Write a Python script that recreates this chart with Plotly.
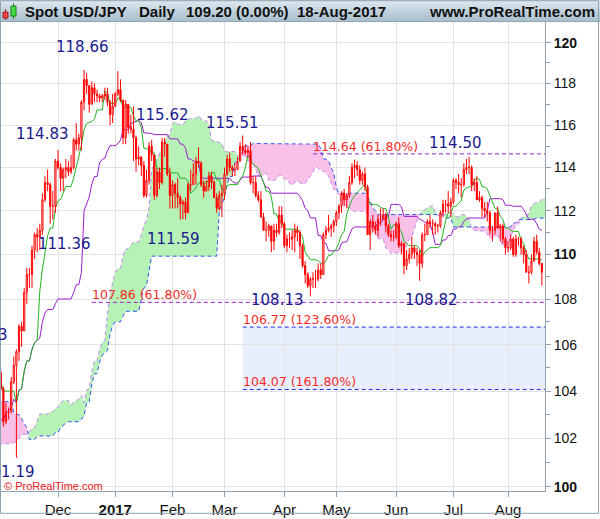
import numpy as np
import pandas as pd
import plotly.graph_objects as go

# daily USD/JPY bars; the first months only feed the Ichimoku lines
FIRST_DAY = "2016-07-11"
LAST_DAY = "2017-08-18"
VIEW_FROM = "2016-11-01"

OPEN = [
    100.6, 102.7, 104.2, 104.6, 105.7, 104.9, 106.1, 106.2, 106.9, 105.8, 106.1, 106.2, 104.7, 105.4, 105.2,
    102.1, 102.4, 100.9, 101.3, 101.2, 101.8, 102.5, 101.9, 101.3, 101.9, 101.3, 101.2, 100.3, 100.2, 99.9, 100.2, 100.7, 100.2, 100.5, 100.5, 101.8, 102.0, 102.9,
    103.4, 103.3, 104.0, 103.3, 101.7, 101.7, 102.0, 102.7, 102.6, 102.6, 102.3, 102.0, 102.3, 101.8, 101.7, 100.7, 100.7, 101.0, 100.4, 100.5, 100.7, 101.1,
    101.3, 101.9, 102.9, 103.5, 103.9, 102.9, 103.6, 103.8, 104.2, 103.6, 104.2, 103.8, 103.8, 103.4, 103.9, 103.8, 104.2, 104.3, 104.3, 105.2, 104.7,
    104.8, 104.1, 102.7, 103.1, 103.1, 104.4, 105.1, 105.7, 106.8, 106.6, 108.3, 109.1, 109.1, 110.2, 110.9, 110.8, 111.1, 112.5, 113.3, 113.2, 112.2, 112.2,
    114.3, 114.0, 113.5, 113.9, 114.0, 113.8, 114.0, 115.3, 115.1, 115.4, 117.1, 118.2, 117.9, 117.0, 117.8, 117.5, 117.4, 117.3, 117.4, 117.5, 117.1, 116.5,
    116.9, 117.5, 117.7, 117.2, 115.4, 117.0, 115.9, 115.8, 115.4, 114.4, 114.5, 114.1, 112.7, 113.4, 115.0, 114.6, 112.7, 113.8, 113.3, 115.2, 115.1, 113.7,
    112.7, 113.2, 112.8, 112.6, 112.3, 112.4, 111.9, 113.2, 113.2, 113.7, 114.3, 114.2, 113.2, 112.9, 113.1, 113.6, 113.3, 112.6, 112.1, 112.7,
    112.8, 113.7, 114.4, 114.0, 113.9, 113.9, 114.3, 115.0, 114.8, 114.7, 114.8, 113.3, 113.3, 112.7, 112.5, 111.7, 111.1, 111.1, 111.3, 110.6, 111.1, 111.0, 111.8,
    111.4, 110.4, 110.7, 110.7, 110.8, 111.1, 111.0, 110.4, 109.5, 109.1, 108.6, 108.9, 108.9, 108.9, 109.3, 109.1, 110.9, 111.1, 111.2, 111.3,
    111.5, 111.9, 112.2, 112.8, 112.5, 112.7, 113.3, 114.0, 114.1, 113.9, 113.4, 113.7, 113.1, 110.9, 111.5, 111.3, 111.1, 111.6, 111.6, 111.8, 111.3, 110.9, 110.8,
    110.8, 111.4, 110.4, 110.5, 109.5, 109.8, 110.0, 110.3, 110.1, 110.0, 109.6, 110.9, 110.9, 111.5, 111.4, 111.4, 111.3, 111.3, 111.9, 112.3, 112.3, 112.2,
    112.4, 113.4, 113.3, 113.2, 113.2, 113.9, 114.0, 114.0, 113.2, 113.3, 112.5, 112.6, 112.1, 112.0, 111.9, 111.1, 111.1, 111.9, 111.2, 111.3, 110.7,
    110.3, 110.3, 110.7, 110.0, 110.7, 110.7, 110.3, 110.0, 109.2, 109.2, 109.7, 110.6, 110.1, 109.6,
]
HIGH = [
    103.0, 104.3, 105.0, 106.0, 106.3, 106.3, 106.4, 107.0, 107.5, 106.6, 106.4, 106.4, 106.0, 105.6, 105.3,
    102.8, 102.6, 101.4, 101.6, 102.1, 102.7, 102.7, 102.0, 102.0, 102.0, 101.6, 101.3, 100.9, 100.4, 100.4, 100.9, 100.8, 100.8, 100.7, 101.9, 102.5, 103.0, 103.5,
    104.0, 104.3, 104.1, 103.5, 102.0, 102.2, 103.0, 102.8, 102.8, 102.8, 102.5, 102.3, 102.4, 101.9, 102.8, 101.1, 101.2, 101.3, 100.9, 101.0, 101.4, 101.6,
    102.1, 103.0, 103.5, 104.1, 104.2, 103.9, 104.0, 104.3, 104.3, 104.6, 104.2, 104.0, 103.9, 104.1, 104.1, 104.3, 104.9, 104.6, 105.3, 105.5, 105.1,
    104.9, 104.2, 103.5, 103.3, 104.6, 105.5, 105.8, 106.9, 107.0, 108.5, 109.4, 109.4, 110.4, 111.0, 111.2, 111.4, 112.8, 113.6, 113.9, 113.3, 112.9, 114.4,
    114.83, 114.2, 114.0, 114.4, 114.3, 114.6, 115.4, 116.1, 115.6, 117.2, 118.66, 118.5, 117.9, 118.1, 118.0, 117.7, 117.5, 117.5, 117.8, 117.8, 117.2, 117.5,
    117.6, 118.6, 118.2, 117.2, 117.2, 117.0, 116.5, 116.9, 115.5, 115.0, 114.5, 114.3, 113.9, 115.2, 115.3, 114.6, 114.0, 114.0, 115.4, 115.4, 115.1, 114.0,
    113.4, 113.3, 113.5, 112.7, 112.5, 112.6, 113.3, 113.9, 114.2, 114.5, 114.95, 114.3, 113.4, 113.4, 113.8, 113.8, 113.4, 112.8, 112.9, 113.2,
    114.0, 114.6, 114.7, 114.1, 114.2, 114.5, 115.2, 115.51, 115.1, 115.0, 115.2, 113.6, 113.6, 112.9, 112.9, 111.9, 111.5, 111.4, 111.3, 111.4, 111.4, 112.2, 112.2,
    111.5, 110.9, 111.0, 111.1, 111.4, 111.3, 111.1, 110.5, 109.7, 109.2, 109.0, 109.2, 109.3, 109.6, 109.6, 111.0, 111.3, 111.8, 111.4, 111.6,
    112.0, 112.3, 112.9, 113.0, 112.8, 113.6, 114.2, 114.37, 114.3, 114.1, 113.8, 114.0, 113.2, 111.6, 111.8, 111.5, 111.8, 112.1, 112.1, 111.9, 111.4, 111.1, 111.1,
    111.5, 111.7, 110.6, 110.5, 110.2, 110.3, 110.8, 110.4, 110.3, 110.2, 111.0, 111.4, 111.6, 111.8, 111.6, 111.5, 111.4, 112.0, 112.5, 112.5, 112.9, 112.6,
    113.5, 113.5, 113.7, 113.5, 114.2, 114.4, 114.5, 114.1, 113.5, 113.6, 112.9, 112.7, 112.4, 112.4, 112.0, 111.3, 111.9, 112.2, 111.4, 111.4, 110.8,
    110.6, 110.9, 110.8, 110.9, 110.8, 110.8, 110.4, 110.2, 109.5, 110.0, 110.8, 110.9, 110.3, 109.6,
]
LOW = [
    100.6, 102.6, 104.0, 104.3, 104.9, 104.9, 105.4, 105.9, 105.3, 104.9, 105.9, 104.6, 104.6, 103.9, 102.0,
    101.9, 100.7, 100.7, 101.0, 100.9, 101.7, 101.7, 101.2, 101.2, 101.1, 101.0, 99.6, 99.9, 99.6, 99.8, 100.0, 99.9, 100.1, 100.2, 99.9, 101.7, 101.9, 102.8,
    103.2, 102.8, 103.1, 101.2, 101.2, 101.5, 101.9, 101.9, 102.3, 101.8, 101.9, 101.7, 101.7, 101.5, 100.6, 100.1, 100.4, 100.2, 100.1, 100.1, 100.6, 100.9,
    101.1, 101.8, 102.8, 103.3, 102.8, 102.8, 103.5, 103.7, 103.2, 103.5, 103.5, 103.6, 103.3, 103.3, 103.5, 103.7, 104.1, 104.0, 104.1, 104.3, 104.6,
    104.0, 102.5, 102.6, 102.8, 103.1, 104.3, 101.19, 105.3, 105.9, 106.6, 107.8, 108.5, 108.5, 109.8, 110.1, 110.2, 110.9, 112.4, 112.9, 111.4, 111.6, 111.9,
    113.9, 112.9, 112.9, 113.5, 113.6, 113.7, 113.9, 114.8, 114.8, 114.8, 116.7, 117.5, 116.6, 117.0, 117.1, 117.1, 117.1, 117.1, 117.2, 116.9, 116.0, 116.1,
    116.9, 117.4, 117.1, 115.1, 115.1, 115.6, 115.6, 114.3, 113.8, 114.1, 113.6, 112.6, 112.6, 113.2, 114.3, 112.5, 112.6, 113.0, 113.2, 114.5, 113.6, 112.1,
    112.1, 112.1, 112.1, 111.6, 111.6, 111.6, 111.9, 112.9, 113.2, 113.2, 114.0, 113.1, 112.6, 112.9, 112.9, 113.0, 112.6, 111.9, 112.0, 111.7,
    112.5, 113.6, 113.8, 113.6, 113.6, 113.9, 114.3, 114.6, 114.6, 114.5, 113.2, 112.8, 112.6, 112.4, 111.7, 111.1, 110.6, 110.8, 110.1, 110.2, 110.8, 110.9, 111.2,
    110.3, 110.1, 110.3, 110.2, 110.1, 110.6, 109.8, 109.4, 108.7, 108.5, 108.13, 108.5, 108.5, 108.8, 108.9, 109.1, 110.7, 111.0, 110.8, 111.0,
    111.3, 111.6, 111.9, 112.2, 112.1, 112.6, 113.2, 113.5, 113.6, 113.2, 113.2, 112.9, 110.9, 110.2, 111.0, 110.9, 110.8, 111.3, 111.6, 111.0, 110.8, 110.6, 110.6,
    110.7, 110.3, 110.0, 109.1, 109.3, 109.6, 109.8, 109.8, 109.5, 108.82, 109.4, 110.6, 110.9, 111.2, 110.9, 110.9, 111.0, 111.2, 111.7, 111.9, 111.9, 111.7,
    112.3, 113.0, 112.8, 112.6, 113.1, 113.7, 113.7, 112.9, 112.9, 112.5, 112.4, 111.7, 111.7, 111.5, 110.9, 110.6, 110.9, 111.2, 110.6, 110.5, 110.0,
    110.1, 110.2, 109.9, 109.9, 110.4, 110.0, 109.6, 109.2, 108.7, 109.1, 109.7, 110.0, 109.5, 108.6,
]
CLOSE = [
    102.7, 104.2, 104.6, 105.7, 104.9, 106.1, 106.2, 106.9, 105.8, 106.1, 106.2, 104.7, 105.4, 105.2, 102.1,
    102.4, 100.9, 101.3, 101.2, 101.8, 102.5, 101.9, 101.3, 101.9, 101.3, 101.2, 100.3, 100.2, 99.9, 100.2, 100.7, 100.2, 100.5, 100.5, 101.8, 102.0, 102.9, 103.4,
    103.3, 104.0, 103.3, 101.7, 101.7, 102.0, 102.7, 102.6, 102.6, 102.3, 102.0, 102.3, 101.8, 101.7, 100.7, 100.7, 101.0, 100.4, 100.5, 100.7, 101.1, 101.3,
    101.9, 102.9, 103.5, 103.9, 102.9, 103.6, 103.8, 104.2, 103.6, 104.2, 103.8, 103.8, 103.4, 103.9, 103.8, 104.2, 104.3, 104.3, 105.2, 104.7, 104.8,
    104.1, 102.7, 103.1, 103.1, 104.4, 105.1, 105.7, 106.8, 106.6, 108.3, 109.1, 109.1, 110.2, 110.9, 110.8, 111.1, 112.5, 113.3, 113.2, 112.2, 112.2, 114.3,
    114.0, 113.5, 113.9, 114.0, 113.8, 114.0, 115.3, 115.1, 115.4, 117.1, 118.2, 117.9, 117.0, 117.8, 117.5, 117.4, 117.3, 117.4, 117.5, 117.1, 116.5, 116.9,
    117.5, 117.7, 117.2, 115.4, 117.0, 115.9, 115.8, 115.4, 114.4, 114.5, 114.1, 112.7, 113.4, 115.0, 114.6, 112.7, 113.8, 113.3, 115.2, 115.1, 113.7, 112.7,
    113.2, 112.8, 112.6, 112.3, 112.4, 111.9, 113.2, 113.2, 113.7, 114.3, 114.2, 113.2, 112.9, 113.1, 113.6, 113.3, 112.6, 112.1, 112.7, 112.8,
    113.7, 114.4, 114.0, 113.9, 113.9, 114.3, 115.0, 114.8, 114.7, 114.8, 113.3, 113.3, 112.7, 112.5, 111.7, 111.1, 111.1, 111.3, 110.6, 111.1, 111.0, 111.8, 111.4,
    110.4, 110.7, 110.7, 110.8, 111.1, 111.0, 110.4, 109.5, 109.1, 108.6, 108.9, 108.9, 108.9, 109.3, 109.1, 110.9, 111.1, 111.2, 111.3, 111.5,
    111.9, 112.2, 112.8, 112.5, 112.7, 113.3, 114.0, 114.1, 113.9, 113.4, 113.7, 113.1, 110.9, 111.5, 111.3, 111.1, 111.6, 111.6, 111.8, 111.3, 110.9, 110.8, 110.8,
    111.4, 110.4, 110.5, 109.5, 109.8, 110.0, 110.3, 110.1, 110.0, 109.6, 110.9, 110.9, 111.5, 111.4, 111.4, 111.3, 111.3, 111.9, 112.3, 112.3, 112.2, 112.4,
    113.4, 113.3, 113.2, 113.2, 113.9, 114.0, 114.0, 113.2, 113.3, 112.5, 112.6, 112.1, 112.0, 111.9, 111.1, 111.1, 111.9, 111.2, 111.3, 110.7, 110.3,
    110.3, 110.7, 110.0, 110.7, 110.7, 110.3, 110.0, 109.2, 109.2, 109.7, 110.6, 110.1, 109.6, 109.2,
]

MONTH_TEXT = ["Dec", "<b>2017</b>", "Feb", "Mar", "Apr", "May", "Jun", "Jul", "Aug"]
Y_MAJOR = [100, 102, 104, 106, 108, 110, 112, 114, 116, 118, 120]
Y_MINOR = [101, 103, 105, 107, 109, 111, 113, 115, 117, 119]
Y_BOLD = [100, 110, 120]

SWING_TEXT = ["118.66", "114.83", "111.36", "115.62", "111.59", "115.51",
              "114.50", "108.13", "108.82", "101.19", "105.53"]

FIB_LEVEL = [114.64, 107.86, 106.77, 104.07]
FIB_PCT = ["61.80%", "61.80%", "123.60%", "161.80%"]
FIB_FROM = ["2017-04-18", "2016-12-20", "2017-03-10", "2017-03-10"]
TARGET_ZONE = [104.07, 106.77]

HEADER_TEXT = ["Spot USD/JPY", "Daily", "109.20 (0.00%)", "18-Aug-2017"]

# ---- layout constants (pixels of the 600x519 picture)
W, H = 600, 519
ML, MR, MT, MB = 1, 55, 22, 24
AXIS = "#8FA3B1"
GRID = "#E3E3E3"
GREEN_FILL = "#B6F2B6"
PINK_FILL = "#F9C1E7"


def px(xp):
    return (xp - ML) / (W - ML - MR)


def py(yp):
    return (H - MB - yp) / (H - MT - MB)


dates = pd.bdate_range(FIRST_DAY, LAST_DAY)
assert len(dates) == len(OPEN) == len(HIGH) == len(LOW) == len(CLOSE)
x = np.arange(len(dates)) - dates.get_loc(pd.Timestamp(VIEW_FROM))

hi, lo = pd.Series(HIGH), pd.Series(LOW)


def midpoint(n):
    return ((hi.rolling(n).max() + lo.rolling(n).min()) / 2).values


tenkan = midpoint(9)
kijun = midpoint(26)
span_a = (tenkan + kijun) / 2
span_b = midpoint(52)
cx = x + 26  # leading spans are drawn 26 bars ahead

ok = ~np.isnan(span_b)
cxs, ca, cb = cx[ok], span_a[ok], span_b[ok]


def cloud_pieces(xs, a, b):
    pieces, cur, sign = [], [], None
    for k in range(len(xs)):
        s = a[k] >= b[k]
        if sign is not None and s != sign:
            d0, d1 = a[k - 1] - b[k - 1], a[k] - b[k]
            t = d0 / (d0 - d1)
            xc = xs[k - 1] + t * (xs[k] - xs[k - 1])
            yc = a[k - 1] + t * (a[k] - a[k - 1])
            cur.append((xc, yc, yc))
            pieces.append((sign, cur))
            cur = [(xc, yc, yc)]
        cur.append((xs[k], a[k], b[k]))
        sign = s
    pieces.append((sign, cur))
    return pieces


XR = [0.08, 209.2]
YR = [np.log10(99.82), np.log10(121.02)]

fig = go.Figure()
for green, pts in cloud_pieces(cxs, ca, cb):
    fig.add_trace(go.Scatter(
        x=[p[0] for p in pts] + [p[0] for p in pts[::-1]],
        y=[p[1] for p in pts] + [p[2] for p in pts[::-1]],
        mode="lines", fill="toself", line=dict(width=0),
        fillcolor=GREEN_FILL if green else PINK_FILL, hoverinfo="skip"))

fig.add_trace(go.Scatter(x=cxs, y=ca, mode="lines",
                         line=dict(color="#C08CF0", width=1, dash="4px,3px")))
fig.add_trace(go.Scatter(x=cxs, y=cb, mode="lines",
                         line=dict(color="#3556F2", width=1, dash="4px,3px")))
vis = x >= -2
fig.add_trace(go.Scatter(x=x[vis], y=kijun[vis], mode="lines",
                         line=dict(color="#9B1FD1", width=1)))
fig.add_trace(go.Scatter(x=x[vis], y=tenkan[vis], mode="lines",
                         line=dict(color="#22B422", width=1)))

# candles on an overlaid pair of axes so they sit above the cloud
fig.add_trace(go.Candlestick(
    x=x, open=OPEN, high=HIGH, low=LOW, close=CLOSE,
    xaxis="x2", yaxis="y2", whiskerwidth=0,
    increasing=dict(line=dict(color="#FF0000", width=1), fillcolor="#FFFFFF"),
    decreasing=dict(line=dict(color="#FF0000", width=1), fillcolor="#FF0000")))

shapes = []
annos = []

# fibonacci zone and levels (shape positions on a log axis are plain prices)
zone_x0 = x[dates.get_loc(pd.Timestamp(FIB_FROM[2]))]
shapes.append(dict(type="rect", xref="x", yref="y", x0=zone_x0, x1=XR[1],
                   y0=TARGET_ZONE[0], y1=TARGET_ZONE[1],
                   fillcolor="#E8EEFB", line=dict(width=0), layer="below"))
fib_colors = ["#9B1FD1", "#9B1FD1", "#1F2FE8", "#1F2FE8"]
for lvl, pct, start, col in zip(FIB_LEVEL, FIB_PCT, FIB_FROM, fib_colors):
    xs0 = x[dates.get_loc(pd.Timestamp(start))]
    shapes.append(dict(type="line", xref="x", yref="y", x0=xs0, x1=XR[1],
                       y0=lvl, y1=lvl,
                       line=dict(color=col, width=1, dash="4px,3px"), layer="above"))
    annos.append(dict(xref="x", yref="y", x=xs0, y=np.log10(lvl),
                      text=f"{lvl:.2f} ({pct})", showarrow=False,
                      xanchor="left", yanchor="bottom", xshift=-2, yshift=-2,
                      font=dict(family="DejaVu Sans", size=12.5, color="#F22A2A")))

# swing labels (pixel positions in the picture)
label_pos = [(82, 47, "center"), (42, 135, "center"), (64, 246, "center"),
             (162, 116, "center"), (173, 241, "center"), (232, 124, "center"),
             (455, 144, "center"), (277, 302, "center"), (431, 302, "center"),
             (37, 476, "right"), (10, 338, "right")]
for txt, (lx, ly, anc) in zip(SWING_TEXT, label_pos):
    annos.append(dict(xref="paper", yref="paper", x=px(lx), y=py(ly), text=txt,
                      showarrow=False, xanchor=anc, yanchor="middle",
                      font=dict(family="DejaVu Sans", size=15, color="#1A1A8E")))

annos.append(dict(xref="paper", yref="paper", x=px(2), y=py(490),
                  text="© ProRealTime.com", showarrow=False, xanchor="left",
                  yanchor="middle",
                  font=dict(family="Liberation Sans, Arial", size=11, color="#E82020")))

# header bar with a soft vertical gradient
bands = ["#D7E4EC", "#D0DEE7", "#C9D9E2", "#C2D3DE", "#BBCDD9", "#B4C7D4", "#ADC2CF"]
for k, col in enumerate(bands):
    shapes.append(dict(type="rect", xref="paper", yref="paper",
                       x0=px(0), x1=px(600), y0=py(3 * k + 3), y1=py(3 * k),
                       fillcolor=col, line=dict(width=0), layer="above"))
shapes.append(dict(type="line", xref="paper", yref="paper", x0=px(0), x1=px(600),
                   y0=py(21.5), y1=py(21.5), line=dict(color=AXIS, width=1)))
# small candle icon
shapes += [
    dict(type="line", xref="paper", yref="paper", x0=px(5.5), x1=px(5.5),
         y0=py(20), y1=py(9), line=dict(color="#A02020", width=1)),
    dict(type="rect", xref="paper", yref="paper", x0=px(3), x1=px(8),
         y0=py(18), y1=py(12), fillcolor="#EE4444", line=dict(color="#A02020", width=1)),
    dict(type="line", xref="paper", yref="paper", x0=px(13.5), x1=px(13.5),
         y0=py(19), y1=py(3), line=dict(color="#1E7A1E", width=1)),
    dict(type="rect", xref="paper", yref="paper", x0=px(11), x1=px(16),
         y0=py(16), y1=py(6), fillcolor="#44DD44", line=dict(color="#1E7A1E", width=1)),
]
# outer frame
shapes.append(dict(type="rect", xref="paper", yref="paper", x0=px(0.5), x1=px(598.5),
                   y0=py(517.5), y1=py(0.5), line=dict(color=AXIS, width=1)))

head_x = [23, 137, 184, 295]
for txt, hx in zip(HEADER_TEXT, head_x):
    annos.append(dict(xref="paper", yref="paper", x=px(hx), y=py(11), text=f"<b>{txt}</b>",
                      showarrow=False, xanchor="left", yanchor="middle",
                      font=dict(family="Liberation Sans, Arial", size=15, color="#111111")))
annos.append(dict(xref="paper", yref="paper", x=px(597), y=py(11),
                  text="<b>www.ProRealTime.com</b>", showarrow=False,
                  xanchor="right", yanchor="middle",
                  font=dict(family="Liberation Sans, Arial", size=15, color="#111111")))

month_ticks = [x[k] for k in range(1, len(dates))
               if dates[k].month != dates[k - 1].month and dates[k] > pd.Timestamp("2016-11-15")]

fig.update_layout(
    width=W, height=H,
    margin=dict(l=ML, r=MR, t=MT, b=MB),
    paper_bgcolor="white", plot_bgcolor="white",
    showlegend=False, boxgap=0.35,
    shapes=shapes, annotations=annos,
    xaxis=dict(range=XR, tickvals=month_ticks, ticktext=MONTH_TEXT,
               ticks="outside", ticklen=5, tickcolor=AXIS,
               showgrid=True, gridcolor=GRID, gridwidth=1, zeroline=False,
               showline=True, linecolor=AXIS, linewidth=1,
               rangeslider=dict(visible=False),
               tickfont=dict(family="Liberation Sans, Arial", size=15, color="#111111")),
    yaxis=dict(type="log", range=YR, side="right",
               tickvals=Y_MAJOR,
               ticktext=[f"<b>{v}</b>" if v in Y_BOLD else str(v) for v in Y_MAJOR],
               ticks="outside", ticklen=5, tickcolor=AXIS,
               showgrid=True, gridcolor=GRID, gridwidth=1, zeroline=False,
               showline=True, linecolor=AXIS, linewidth=1,
               minor=dict(tickvals=Y_MINOR, ticks="outside", ticklen=4,
                          tickcolor=AXIS, showgrid=False),
               tickfont=dict(family="Liberation Sans, Arial", size=14, color="#111111")),
    xaxis2=dict(overlaying="x", range=XR, visible=False,
                rangeslider=dict(visible=False)),
    yaxis2=dict(overlaying="y", type="log", range=YR, visible=False),
)

# the page's default body margin would shift the chart by 8px
fig.write_html("out.html", config={"displayModeBar": False},
               post_script="document.body.style.margin='0';")
